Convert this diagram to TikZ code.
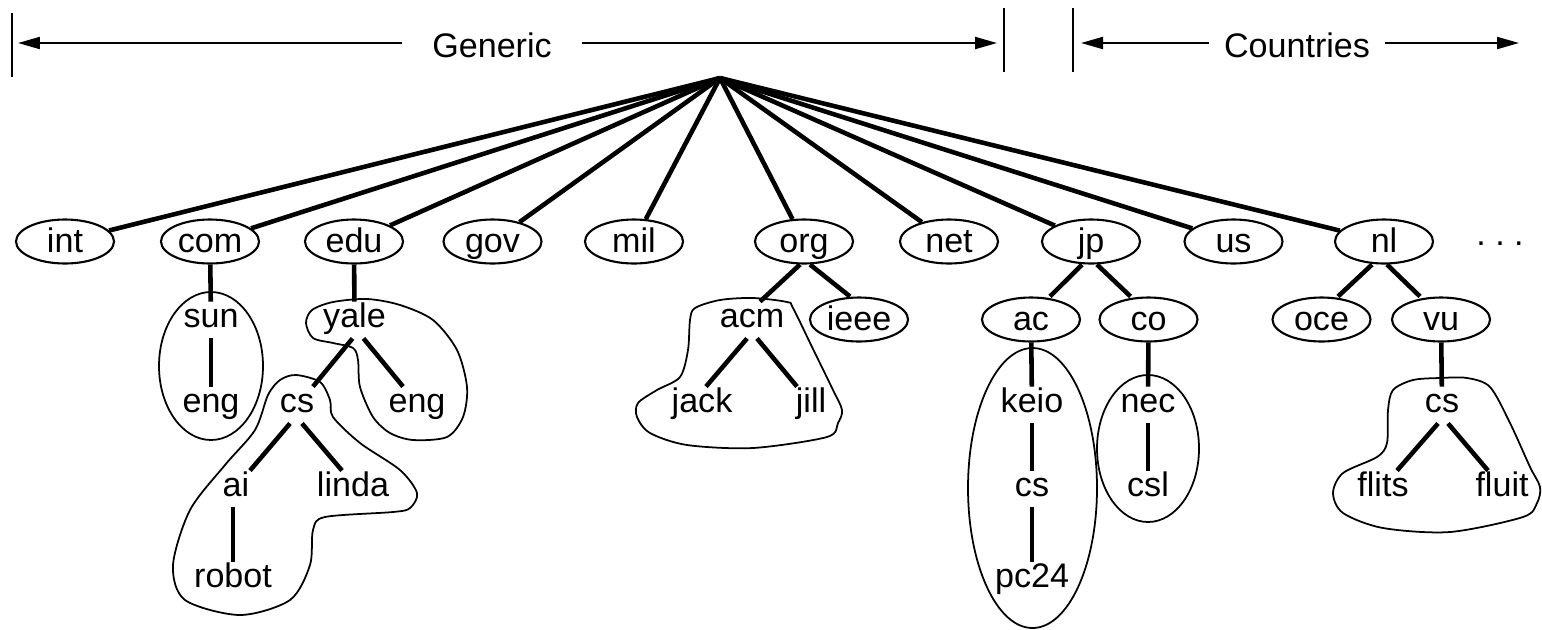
\documentclass[tikz,border=0pt]{standalone}
\usepackage{fontspec}
\setmainfont{Liberation Sans}
\usetikzlibrary{arrows.meta,shapes.geometric}
\tikzset{
  dom/.style={draw, ellipse, line width=0.6pt, minimum width=0.98cm, minimum height=0.44cm,
    inner xsep=-3pt, inner ysep=-0.3pt, text height=7.5pt, text depth=1.5pt},
  lbl/.style={inner xsep=1pt, inner ysep=0.3pt, text height=7pt, text depth=2.5pt},
  tline/.style={line width=1.3pt},
  blob/.style={draw, line width=0.5pt},
  hdr/.style={-{Triangle[length=2.2mm,width=1.2mm]}, line width=0.6pt},
  bar/.style={line width=0.6pt}
}

\begin{document}
\begin{tikzpicture}[font=\fontsize{9.7pt}{11.6pt}\selectfont]
  \useasboundingbox (0,0) rectangle (15.42,-6.29);
  % header
  \coordinate (gl) at (0.18,-0.43);
  \coordinate (gr) at (9.97,-0.43);
  \coordinate (cl) at (10.81,-0.43);
  \coordinate (cr) at (15.19,-0.43);
  \node[anchor=base, inner xsep=0.3cm] (gen) at (4.92,-0.57) {Generic};
  \node[anchor=base, inner xsep=0.14cm] (ctry) at (12.97,-0.57) {Countries};
  \draw[hdr] (gen.west |- gl) -- (gl);
  \draw[hdr] (gen.east |- gr) -- (gr);
  \draw[hdr] (ctry.west |- cl) -- (cl);
  \draw[hdr] (ctry.east |- cr) -- (cr);
  \draw[bar] (0.12,-0.13) -- (0.12,-0.77);
  \draw[bar] (10.04,-0.08) -- (10.04,-0.72);
  \draw[bar] (10.73,-0.08) -- (10.73,-0.72);

  % top level domains
  \coordinate (root) at (7.20,-0.78);
  \foreach \n/\x in {int/0.65,com/2.10,edu/3.54,gov/4.925,mil/6.34,org/8.04,net/9.49,jp/10.91,us/12.335,nl/13.84}
    \node[dom] (\n) at (\x,-2.415) {\n};
  \foreach \n in {int,com,edu,gov,mil,org,net,jp,us,nl}
    \draw[tline] (root) -- (\n);
  \node[anchor=base] (more) at (15.00,-2.45) {.\ .\ .};

  % com
  \node[lbl] (sun) at (2.11,-3.20) {sun};
  \node[lbl] (suneng) at (2.11,-4.05) {eng};
  \draw[tline] (com) -- (sun);
  \draw[tline] (sun) -- (suneng);
  \draw[blob] (2.11,-3.66) ellipse (0.52 and 0.74);

  % edu
  \node[lbl] (yale) at (3.545,-3.20) {yale};
  \node[lbl] (yalecs) at (2.97,-4.05) {cs};
  \node[lbl] (yaleeng) at (4.17,-4.05) {eng};
  \node[lbl] (ai) at (2.36,-4.89) {ai};
  \node[lbl] (linda) at (3.53,-4.89) {linda};
  \node[lbl] (robot) at (2.33,-5.80) {robot};
  \draw[tline] (edu) -- (yale);
  \draw[tline] ([xshift=-0.02cm]yale.south) -- ([xshift=0.16cm]yalecs.north);
  \draw[tline] ([xshift=0.09cm]yale.south) -- ([xshift=-0.14cm]yaleeng.north);
  \draw[tline] ([xshift=-0.07cm]yalecs.south) -- ([xshift=0.14cm]ai.north);
  \draw[tline] ([xshift=0.05cm]yalecs.south) -- ([xshift=-0.11cm]linda.north);
  \draw[tline] (robot.north |- ai.south) -- (robot.north);
  \draw[blob] plot[smooth cycle] coordinates {(3.06,-3.23) (3.12,-3.10) (3.33,-3.02) (3.67,-2.99)
    (4.00,-3.05) (4.33,-3.20) (4.57,-3.50) (4.67,-3.87) (4.63,-4.17) (4.47,-4.37) (4.13,-4.40)
    (3.90,-4.33) (3.73,-4.17) (3.60,-3.87) (3.58,-3.60) (3.53,-3.48) (3.33,-3.43) (3.13,-3.38)};
  \draw[blob] plot[smooth cycle] coordinates {(2.96,-3.75) (3.20,-3.82) (3.30,-4.00) (3.33,-4.17)
    (3.60,-4.43) (4.00,-4.70) (4.17,-4.93) (4.10,-5.08) (3.93,-5.12) (3.25,-5.17) (3.13,-5.30)
    (3.10,-5.65) (2.90,-6.00) (2.40,-6.15) (1.85,-6.00) (1.73,-5.65) (1.90,-5.10) (2.25,-4.65)
    (2.55,-4.30) (2.68,-3.95) (2.80,-3.80)};

  % org
  \node[dom] (ieee) at (8.59,-3.195) {ieee};
  \node[lbl] (acm) at (7.52,-3.20) {acm};
  \node[lbl] (jack) at (7.02,-4.05) {jack};
  \node[lbl] (jill) at (8.11,-4.05) {jill};
  \draw[tline] ([xshift=-0.04cm]org.south) -- ([xshift=0.08cm]acm.north);
  \draw[tline] ([xshift=0.06cm]org.south) -- ([xshift=-0.09cm]ieee.north);
  \draw[tline] ([xshift=-0.05cm]acm.south) -- ([xshift=0.04cm]jack.north);
  \draw[tline] ([xshift=0.05cm]acm.south) -- ([xshift=-0.14cm]jill.north);
  \draw[blob] plot[smooth cycle] coordinates {(6.95,-3.08) (7.20,-3.00) (7.53,-2.98) (7.87,-3.02)
    (7.93,-3.08) (8.13,-3.49) (8.33,-3.90) (8.42,-4.10) (8.38,-4.23) (8.27,-4.37) (7.53,-4.48)
    (6.87,-4.45) (6.50,-4.33) (6.37,-4.17) (6.38,-4.03) (6.57,-3.90) (6.80,-3.77) (6.88,-3.50)
    (6.90,-3.20)};

  % jp
  \node[dom] (ac) at (10.31,-3.195) {ac};
  \node[dom] (co) at (11.485,-3.195) {co};
  \node[lbl] (keio) at (10.32,-4.05) {keio};
  \node[lbl] (keiocs) at (10.32,-4.89) {cs};
  \node[lbl] (pc24) at (10.32,-5.80) {pc24};
  \node[lbl] (nec) at (11.48,-4.05) {nec};
  \node[lbl] (csl) at (11.48,-4.89) {csl};
  \draw[tline] ([xshift=-0.09cm]jp.south) -- ([xshift=0.19cm]ac.north);
  \draw[tline] ([xshift=0.06cm]jp.south) -- ([xshift=-0.18cm]co.north);
  \draw[tline] (ac) -- (keio);
  \draw[tline] (keio) -- (keiocs);
  \draw[tline] (keiocs) -- (pc24);
  \draw[tline] (co) -- (nec);
  \draw[tline] (nec) -- (csl);
  \draw[blob] (10.325,-4.88) ellipse (0.645 and 1.40);
  \draw[blob] (11.48,-4.485) ellipse (0.51 and 0.735);

  % nl
  \node[dom] (oce) at (13.215,-3.195) {oce};
  \node[dom] (vu) at (14.41,-3.195) {vu};
  \node[lbl] (vucs) at (14.42,-4.05) {cs};
  \node[lbl] (flits) at (13.83,-4.89) {flits};
  \node[lbl] (fluit) at (15.02,-4.89) {fluit};
  \draw[tline] ([xshift=-0.12cm]nl.south) -- ([xshift=0.165cm]oce.north);
  \draw[tline] ([xshift=0.03cm]nl.south) -- ([xshift=-0.21cm]vu.north);
  \draw[tline] (vu) -- (vucs);
  \draw[tline] ([xshift=-0.04cm]vucs.south) -- ([xshift=0.14cm]flits.north);
  \draw[tline] ([xshift=0.06cm]vucs.south) -- ([xshift=-0.14cm]fluit.north);
  \draw[blob] plot[smooth cycle] coordinates {(14.40,-3.78) (14.67,-3.78) (14.90,-3.87) (15.10,-4.23)
    (15.30,-4.67) (15.40,-4.87) (15.37,-5.03) (15.23,-5.17) (14.50,-5.32) (13.83,-5.28)
    (13.43,-5.13) (13.33,-4.93) (13.43,-4.73) (13.77,-4.57) (13.87,-4.43) (13.88,-4.10)
    (13.93,-3.90) (14.13,-3.80)};
\end{tikzpicture}
\end{document}
